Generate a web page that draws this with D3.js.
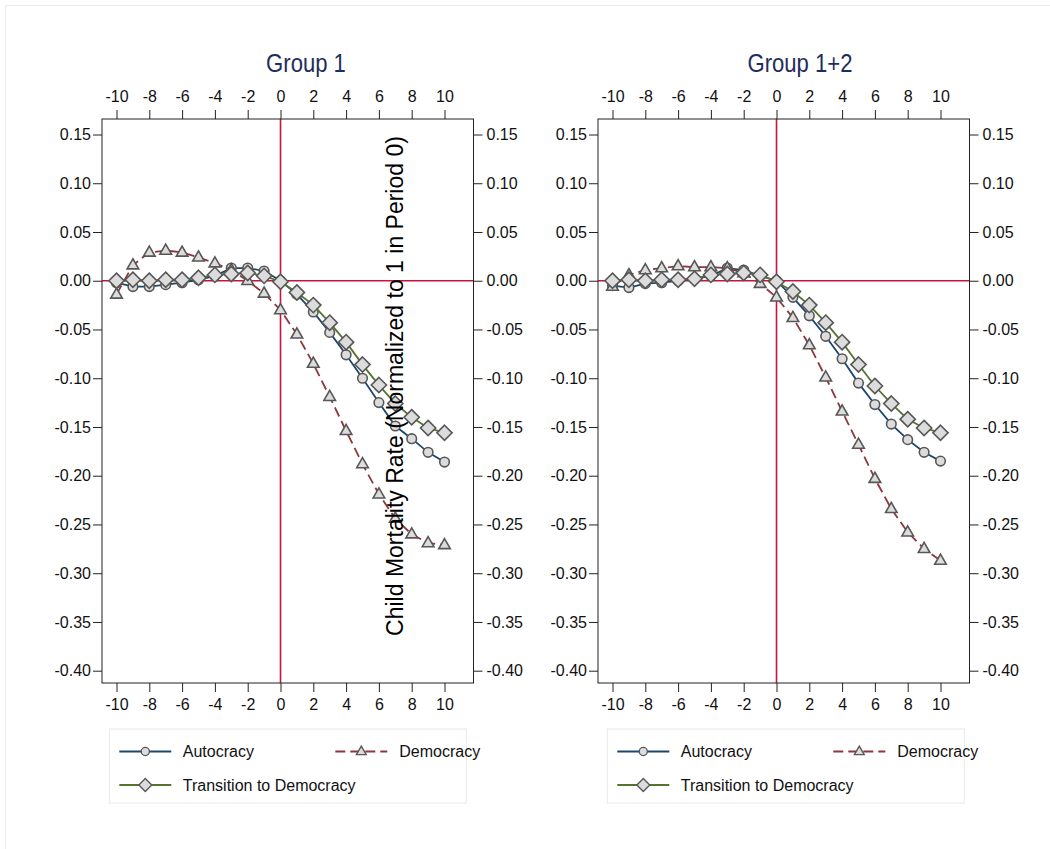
<!DOCTYPE html>
<html>
<head>
<meta charset="utf-8">
<script src="https://cdn.jsdelivr.net/npm/d3@7"></script>
<style>
body { margin: 0; background: #fff; }
text { font-family: "Liberation Sans", Arial, sans-serif; }
</style>
</head>
<body>
<svg id="chart" width="1050" height="849"></svg>
<script>
// x categories (periods) and tick labels
const periods = [-10,-9,-8,-7,-6,-5,-4,-3,-2,-1,0,1,2,3,4,5,6,7,8,9,10];
const xTickValues = [-10,-8,-6,-4,-2,0,2,4,6,8,10];
const yTickValues = [0.15,0.10,0.05,0.00,-0.05,-0.10,-0.15,-0.20,-0.25,-0.30,-0.35,-0.40];
const seriesNames = ["Autocracy", "Democracy", "Transition to Democracy"];
const panelTitles = ["Group 1", "Group 1+2"];
const yTitle = "Child Mortality Rate (Normalized to 1 in Period 0)";

// Group 1
const g1Autocracy  = [-0.002,-0.006,-0.006,-0.004,-0.002,0.001,0.005,0.013,0.013,0.010,0.000,-0.014,-0.032,-0.053,-0.076,-0.100,-0.125,-0.149,-0.162,-0.176,-0.186];
const g1Democracy  = [-0.014,0.016,0.029,0.031,0.029,0.024,0.018,0.011,0.000,-0.013,-0.030,-0.055,-0.085,-0.119,-0.154,-0.188,-0.219,-0.244,-0.260,-0.269,-0.271];
const g1Transition = [0.000,0.001,0.000,0.001,0.001,0.003,0.006,0.007,0.008,0.005,-0.001,-0.012,-0.025,-0.043,-0.063,-0.086,-0.107,-0.126,-0.140,-0.151,-0.156];

// Group 1+2
const g2Autocracy  = [-0.005,-0.007,-0.003,-0.002,0.000,0.002,0.005,0.013,0.011,0.005,0.000,-0.017,-0.036,-0.057,-0.080,-0.105,-0.127,-0.147,-0.163,-0.176,-0.185];
const g2Democracy  = [-0.006,0.006,0.011,0.013,0.015,0.014,0.014,0.013,0.008,-0.003,-0.017,-0.038,-0.066,-0.099,-0.134,-0.168,-0.203,-0.234,-0.258,-0.275,-0.287];
const g2Transition = [0.000,0.001,0.000,0.001,0.001,0.002,0.006,0.007,0.008,0.006,-0.001,-0.011,-0.025,-0.043,-0.063,-0.086,-0.108,-0.126,-0.142,-0.151,-0.156];

const colors = ["#1a476f", "#90353b", "#55752f"];
const dashes = [null, "10,5", null];
const shapes = ["circle", "triangle", "diamond"];
const markerFill = "#dcdcdc", markerStroke = "#575757";
const refColor = "#c8143c";

const svg = d3.select("#chart");

// faint outer border
svg.append("rect")
    .attr("x", 5.5).attr("y", 5.5)
    .attr("width", 1050).attr("height", 850)
    .attr("fill", "none")
    .attr("stroke", "#e6eef2");

function drawMarker(sel, shape) {
    if (shape === "circle") {
        sel.append("circle").attr("r", 4.8);
    } else if (shape === "triangle") {
        sel.append("path").attr("d", "M0,-6.4L5.8,3.7L-5.8,3.7Z");
    } else {
        sel.append("path").attr("d", "M0,-7.6L7.6,0L0,7.6L-7.6,0Z");
    }
    sel.selectAll("circle,path")
        .attr("fill", markerFill)
        .attr("stroke", markerStroke)
        .attr("stroke-width", 1.6);
}

const y = d3.scaleLinear().domain([-0.40, 0.15]).range([670.7, 134.5]);
const frameTop = 119, frameBottom = 683;

const panels = [
    {title: panelTitles[0], x0: 280.5, titleX: 306, legendX: 109.3,
     series: [g1Autocracy, g1Democracy, g1Transition]},
    {title: panelTitles[1], x0: 776.5, titleX: 800, legendX: 607.3,
     series: [g2Autocracy, g2Democracy, g2Transition]}
];

panels.forEach(p => {
    const x = d3.scaleLinear().domain([-10, 10]).range([p.x0 - 164, p.x0 + 164]);
    const left = x(-10) - 14.5, right = x(10) + 29;
    const g = svg.append("g");

    // title
    g.append("text")
        .attr("transform", `translate(${p.titleX},72) scale(0.85,1)`)
        .attr("text-anchor", "middle")
        .attr("font-size", 26)
        .attr("fill", "#1f2d5c")
        .text(p.title);

    // reference lines
    g.append("line")
        .attr("x1", left).attr("x2", right)
        .attr("y1", y(0)).attr("y2", y(0))
        .attr("stroke", refColor).attr("stroke-width", 1.6);
    g.append("line")
        .attr("x1", x(0)).attr("x2", x(0))
        .attr("y1", frameTop).attr("y2", frameBottom)
        .attr("stroke", refColor).attr("stroke-width", 1.6);

    // axes (plain hyphen minus, as in the original)
    const fmtX = d => String(d);
    const fmtY = d => d.toFixed(2);
    const axes = [
        {ax: d3.axisTop(x).tickValues(xTickValues).tickFormat(fmtX).tickPadding(8), tr: `translate(0,${frameTop})`},
        {ax: d3.axisBottom(x).tickValues(xTickValues).tickFormat(fmtX).tickPadding(7), tr: `translate(0,${frameBottom})`},
        {ax: d3.axisLeft(y).tickValues(yTickValues).tickFormat(fmtY).tickPadding(2), tr: `translate(${left},0)`},
        {ax: d3.axisRight(y).tickValues(yTickValues).tickFormat(fmtY).tickPadding(4), tr: `translate(${right},0)`}
    ];
    axes.forEach(a => {
        const ag = g.append("g")
            .attr("transform", a.tr)
            .call(a.ax.tickSize(9).tickSizeOuter(0));
        ag.select(".domain").remove();
        ag.selectAll("line").attr("stroke", "#222");
        ag.selectAll("text")
            .attr("font-size", 16)
            .attr("font-family", "'Liberation Sans', Arial, sans-serif")
            .attr("fill", "#111");
    });

    // frame
    g.append("rect")
        .attr("x", left).attr("y", frameTop)
        .attr("width", right - left).attr("height", frameBottom - frameTop)
        .attr("fill", "none")
        .attr("stroke", "#222").attr("stroke-width", 1);

    // series
    p.series.forEach((vals, i) => {
        const pts = periods.map((t, k) => [t, vals[k]]);
        const line = d3.line().x(d => x(d[0])).y(d => y(d[1]));
        g.append("path")
            .datum(pts)
            .attr("d", line)
            .attr("fill", "none")
            .attr("stroke", colors[i])
            .attr("stroke-width", 1.8)
            .attr("stroke-dasharray", dashes[i]);
        pts.forEach(d => {
            const m = g.append("g").attr("transform", `translate(${x(d[0])},${y(d[1])})`);
            drawMarker(m, shapes[i]);
        });
    });

    // legend
    const lx = p.legendX;
    const lg = g.append("g");
    lg.append("rect")
        .attr("x", lx).attr("y", 729)
        .attr("width", 357).attr("height", 74)
        .attr("fill", "#fff")
        .attr("stroke", "#e3eaee");
    const items = [
        {dx: 10, y: 751.5, tx: 73.5},
        {dx: 226, y: 751.5, tx: 290},
        {dx: 10, y: 785, tx: 73.5}
    ];
    items.forEach((it, i) => {
        lg.append("line")
            .attr("x1", lx + it.dx).attr("x2", lx + it.dx + 52)
            .attr("y1", it.y).attr("y2", it.y)
            .attr("stroke", colors[i]).attr("stroke-width", 1.8)
            .attr("stroke-dasharray", dashes[i]);
        const m = lg.append("g").attr("transform", `translate(${lx + it.dx + 26},${it.y}) scale(0.85)`);
        drawMarker(m, shapes[i]);
        lg.append("text")
            .attr("x", lx + it.tx).attr("y", it.y)
            .attr("dy", "0.35em")
            .attr("font-size", 16)
            .attr("fill", "#111")
            .text(seriesNames[i]);
    });
});

// shared y-axis title (sits inside the left panel, as in the original)
svg.append("text")
    .attr("transform", "translate(403,386) rotate(-90)")
    .attr("text-anchor", "middle")
    .attr("font-size", 23)
    .attr("fill", "#000")
    .text(yTitle);
</script>
</body>
</html>
